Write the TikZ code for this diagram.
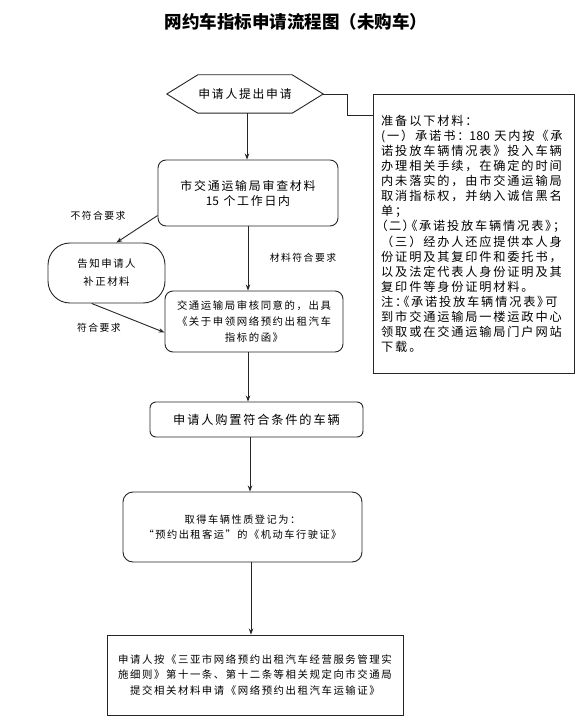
\documentclass[tikz,border=0pt]{standalone}
\usepackage{fontspec}
\setmainfont{Liberation Serif}
\newfontfamily\cjk[LetterSpace=15]{Noto Sans CJK SC}
\newfontfamily\cjkp[LetterSpace=15,RawFeature=+palt]{Noto Sans CJK SC}
\newfontfamily\cjktitle{Noto Sans CJK SC}
\usetikzlibrary{arrows.meta}
\newcommand\fsz[2]{\fontsize{#1}{#2}\selectfont}
\newcommand\dig[1]{{\cjktitle #1}}
\tikzset{
  box/.style={draw=black!85, line width=0.9pt, align=center, inner sep=0pt},
  rbox/.style={box, rounded corners=8pt},
  arr/.style={draw=black!85, line width=0.9pt, -{Stealth[length=6pt,width=4.5pt]}},
  ln/.style={draw=black!85, line width=0.9pt},
  lbl/.style={font=\cjk\fsz{9.8}{12}, inner sep=0pt}
}
\begin{document}
\begin{tikzpicture}[x=1pt,y=-1pt]
\useasboundingbox (0,0) rectangle (588,727);
\fill[white] (0,0) rectangle (588,727);
% title
\node[font=\cjktitle\bfseries\fsz{17.5}{20}] (title) at (296,22) {网约车指标申请流程图（未购车）};
% hexagon start
\node[minimum width=156pt, minimum height=38pt, inner sep=0pt, font=\cjk\fsz{11.8}{14}] (hex) at (245,94) {申请人提出申请};
\draw[ln] (hex.west) -- ([xshift=31pt]hex.north west) -- ([xshift=-31pt]hex.north east) -- (hex.east) -- ([xshift=-31pt]hex.south east) -- ([xshift=31pt]hex.south west) -- cycle;
% side materials box
\node[box, minimum width=201pt, minimum height=279pt, align=left, anchor=north west, font=\cjk\fsz{12.2}{15.07}] (side) at (373,94) {};
\node[anchor=north west, align=left, inner sep=0pt, font=\cjk\fsz{12.2}{15.07}] (sidetext) at (381,115) {准备以下材料：\\
(一）承诺书：\dig{180} 天内按《承\\
诺投放车辆情况表》投入车辆\\
办理相关手续，在确定的时间\\
内未落实的，由市交通运输局\\
取消指标权，并纳入诚信黑名\\
单；\\
{\cjkp（二）《承诺投放车辆情况表》；}\\
（三）经办人还应提供本人身\\
份证明及其复印件和委托书，\\
以及法定代表人身份证明及其\\
复印件等身份证明材料。\\
{\cjkp 注：《承诺投放车辆情况表》可}\\
到市交通运输局一楼运政中心\\
领取或在交通运输局门户网站\\
下载。};
% boxes
\node[rbox, minimum width=180pt, minimum height=66pt, font=\cjk\fsz{11.9}{15}] (review) at (248,193) {市交通运输局审查材料\\\dig{15} 个工作日内};
\node[box, rounded corners=22pt, minimum width=117pt, minimum height=60pt, font=\cjk\fsz{10.4}{18}] (notify) at (106.5,273) {告知申请人\\补正材料};
\node[rbox, minimum width=178pt, minimum height=61pt, font=\cjk\fsz{10.4}{16}] (issue) at (254,321.5) {交通运输局审核同意的，出具\\《关于申领网络预约出租汽车\\指标的函》};
\node[rbox, rounded corners=6pt, minimum width=213pt, minimum height=35pt, font=\cjk\fsz{12.2}{15}] (buy) at (256.5,419.5) {申请人购置符合条件的车辆};
\node[rbox, rounded corners=10pt, minimum width=239pt, minimum height=70pt, font=\cjk\fsz{10.2}{15}] (license) at (242.5,527) {取得车辆性质登记为：\\“预约出租客运”的《机动车行驶证》};
\node[box, minimum width=296pt, minimum height=80pt, font=\cjk\fsz{10.4}{15.5}] (apply) at (255,675) {申请人按《三亚市网络预约出租汽车经营服务管理实\\施细则》第十一条、第十二条等相关规定向市交通局\\提交相关材料申请《网络预约出租汽车运输证》};
% labels
\node[lbl] (l1) at (98,216) {不符合要求};
\node[lbl] (l2) at (303,258) {材料符合要求};
\node[lbl] (l3) at (99,328) {符合要求};
% connectors
\draw[ln] (hex.east) -- ++(24,0) |- (side.west |- 0,115);
\draw[arr] ([xshift=2pt]hex.south) -- ([xshift=2pt]hex.south |- review.north);
\draw[arr] (review.194) -- (notify.72);
\draw[arr] (notify.244) -- (issue.187);
\draw[arr] (review.south) -- (review.south |- issue.north);
\draw[arr] (review.south |- issue.south) -- (review.south |- buy.north);
\draw[arr] ([xshift=-6.5pt]buy.south) -- ([xshift=-6.5pt]buy.south |- license.north);
\draw[arr] ([xshift=-4pt]apply.north |- license.south) -- ([xshift=-4pt]apply.north);
\end{tikzpicture}
\end{document}
